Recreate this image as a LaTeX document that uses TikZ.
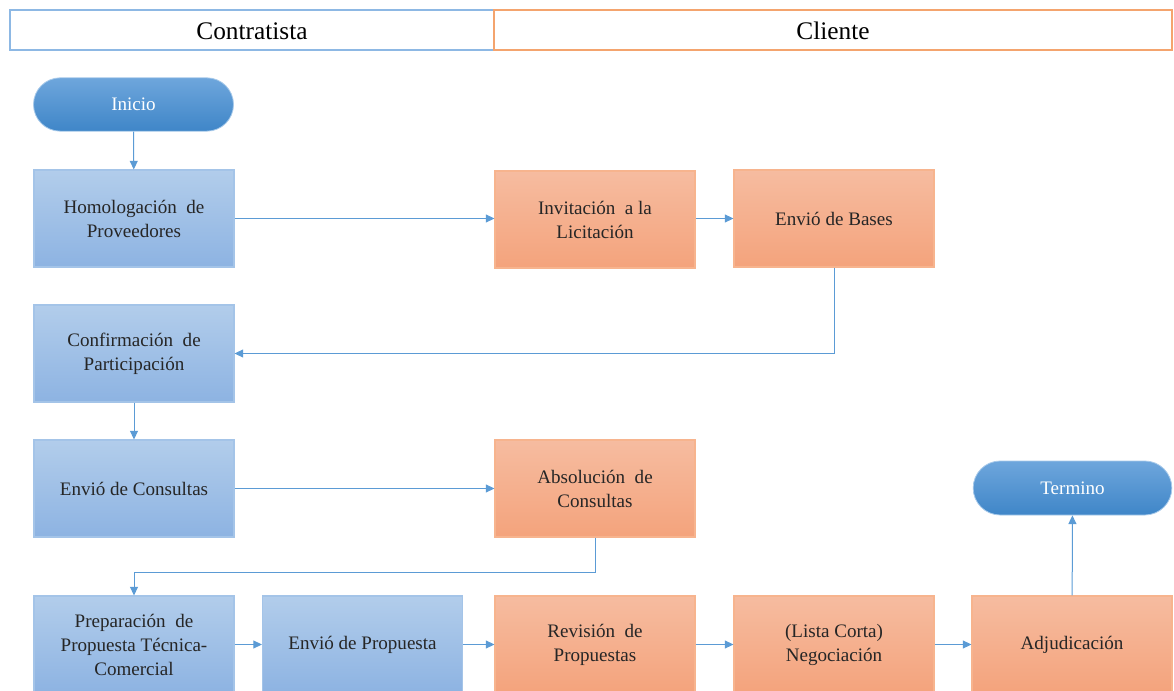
\documentclass[tikz,border=0pt]{standalone}
\usepackage{fontspec}
\setmainfont{Liberation Serif}
\usetikzlibrary{arrows.meta,shapes.misc}
\definecolor{bluetop}{HTML}{B2CDEB}
\definecolor{bluebot}{HTML}{8DB3E2}
\definecolor{blueedge}{HTML}{A4C4E8}
\definecolor{orgtop}{HTML}{F6BCA0}
\definecolor{orgbot}{HTML}{F4A37C}
\definecolor{orgedge}{HTML}{F7B48E}
\definecolor{termtop}{HTML}{6EA6DC}
\definecolor{termbot}{HTML}{3F86C8}
\definecolor{linkblue}{HTML}{5B9BD5}
\definecolor{laneblue}{HTML}{8DB8E4}
\definecolor{laneorg}{HTML}{F4A46E}
\tikzset{
  x=0.75pt, y=-0.75pt,
  txt/.style={font=\fontsize{14.3pt}{18pt}\selectfont, align=center, text=black!85},
  contractor/.style={txt, draw=blueedge, line width=0.8pt, top color=bluetop, bottom color=bluebot,
    minimum width=150pt, minimum height=72.75pt, inner sep=0pt},
  client/.style={txt, draw=orgedge, line width=0.8pt, top color=orgtop, bottom color=orgbot,
    minimum width=150pt, minimum height=72.75pt, inner sep=0pt},
  terminal/.style={rounded rectangle, txt, text=white, draw=termtop!60, line width=0.6pt,
    top color=termtop, bottom color=termbot, minimum width=150pt, minimum height=40pt, inner sep=0pt},
  lane/.style={font=\fontsize{19pt}{22pt}\selectfont, line width=1.1pt, fill=white, inner sep=0pt},
  link/.style={draw=linkblue, line width=0.75pt, -{Triangle[length=6.5pt,width=6pt]}},
}
\begin{document}
\begin{tikzpicture}
\useasboundingbox (0,0) rectangle (1174,691);
% swimlane headers
\draw[lane, draw=laneblue] (10,10) rectangle (494,50);
\draw[lane, draw=laneorg] (494,10) rectangle (1172,50);
\node[lane, anchor=base] (hcon) at (252,40) {Contratista};
\node[lane, anchor=base] (hcli) at (833,40) {Cliente};

% terminators
\node[terminal, minimum width=150pt, minimum height=40pt] (ini) at (133.5,104.5) {Inicio};
\node[terminal, minimum width=149pt, minimum height=40.5pt] (fin) at (1072.5,488) {Termino};

% contractor steps
\node[contractor] (hom) at (134,218.5) {Homologación \ de\\Proveedores};
\node[contractor] (conf) at (134,353.5) {Confirmación \ de\\Participación};
\node[contractor] (cons) at (134,488.5) {Envió de Consultas};
\node[contractor] (prep) at (134,644.5) {Preparación \ de\\Propuesta Técnica-\\Comercial};
\node[contractor] (envp) at (362.5,644.5) {Envió de Propuesta};

% client steps
\node[client] (inv) at (595,219.5) {Invitación \ a la\\Licitación};
\node[client] (bases) at (834,218.5) {Envió de Bases};
\node[client] (abs) at (595,488.5) {Absolución \ de\\Consultas};
\node[client] (rev) at (595,644.5) {Revisión \ de\\Propuestas};
\node[client] (neg) at (834,644.5) {(Lista Corta)\\Negociación};
\node[client] (adj) at (1072,644.5) {Adjudicación};

% flow
\draw[link] (ini) -- (hom);
\draw[link] (hom.east) -- (inv.west |- hom.east);
\draw[link] (inv.east |- bases.west) -- (bases.west);
\draw[link] (bases.south) |- (conf.east);
\draw[link] (conf) -- (cons);
\draw[link] (cons.east) -- (abs.west);
\coordinate (bend) at (595,572);
\draw[link] (abs.south) -- (bend) -| (prep.north);
\draw[link] (prep) -- (envp);
\draw[link] (envp) -- (rev);
\draw[link] (rev) -- (neg);
\draw[link] (neg) -- (adj);
\draw[link] (adj) -- (fin);
\end{tikzpicture}
\end{document}
